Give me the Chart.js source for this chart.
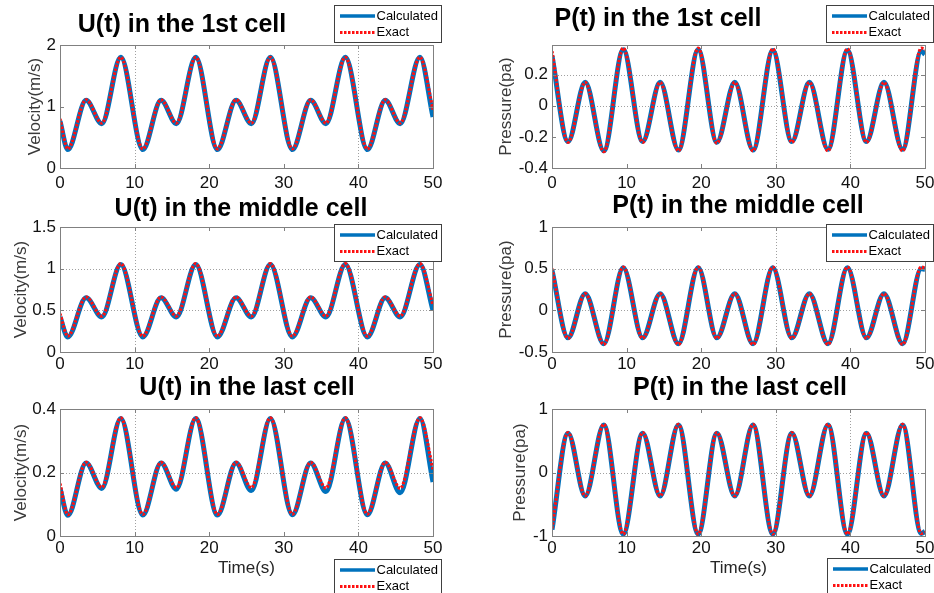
<!DOCTYPE html>
<html>
<head>
<meta charset="utf-8">
<script src="https://cdn.jsdelivr.net/npm/chart.js@4"></script>
<style>
  body { margin: 0; background: #fff; }
  #page { position: relative; width: 934px; height: 593px; overflow: hidden; background: #fff; }
  #page canvas { position: absolute; left: 0; top: 0; }
</style>
</head>
<body>
<div id="page">
  <canvas id="uFirst" width="934" height="593"></canvas>
  <canvas id="pFirst" width="934" height="593"></canvas>
  <canvas id="uMiddle" width="934" height="593"></canvas>
  <canvas id="pMiddle" width="934" height="593"></canvas>
  <canvas id="uLast" width="934" height="593"></canvas>
  <canvas id="pLast" width="934" height="593"></canvas>
</div>
<script>
// times (s) of the turning points
const uTime = [0, 1.05, 3.5, 5.6, 8.15, 11.1, 13.55, 15.6, 18.2, 21.1, 23.6, 25.65, 28.2, 31.15, 33.6, 35.65, 38.25, 41.2, 43.6, 45.6, 48.25, 50];
const pTime = [0, 2.15, 4.45, 6.95, 9.55, 12.15, 14.5, 16.95, 19.6, 22.1, 24.5, 26.95, 29.6, 32.15, 34.5, 37.0, 39.6, 42.15, 44.5, 47.0, 49.5, 50];

// velocity (m/s)
const uFirstCalc = [0.76, 0.30, 1.10, 0.72, 1.80, 0.30, 1.10, 0.72, 1.80, 0.30, 1.10, 0.72, 1.80, 0.30, 1.10, 0.72, 1.80, 0.30, 1.10, 0.72, 1.80, 0.83];
const uFirstExact = [0.80, 0.31, 1.11, 0.73, 1.80, 0.31, 1.11, 0.73, 1.80, 0.31, 1.11, 0.73, 1.80, 0.31, 1.11, 0.73, 1.80, 0.31, 1.11, 0.73, 1.80, 0.95];
const uMiddleCalc = [0.42, 0.18, 0.65, 0.42, 1.05, 0.18, 0.65, 0.42, 1.05, 0.18, 0.65, 0.42, 1.05, 0.18, 0.65, 0.42, 1.05, 0.18, 0.65, 0.42, 1.05, 0.50];
const uMiddleExact = [0.46, 0.19, 0.66, 0.43, 1.06, 0.19, 0.66, 0.43, 1.06, 0.19, 0.66, 0.43, 1.06, 0.19, 0.66, 0.43, 1.06, 0.19, 0.66, 0.43, 1.06, 0.56];
const uLastCalc = [0.15, 0.065, 0.23, 0.150, 0.370, 0.066, 0.230, 0.147, 0.370, 0.066, 0.230, 0.143, 0.370, 0.067, 0.230, 0.140, 0.370, 0.067, 0.230, 0.136, 0.370, 0.17];
const uLastExact = [0.165, 0.067, 0.232, 0.153, 0.372, 0.068, 0.232, 0.152, 0.372, 0.068, 0.232, 0.152, 0.372, 0.069, 0.232, 0.151, 0.372, 0.069, 0.232, 0.150, 0.372, 0.21];

// pressure (pa)
const pFirstCalc = [0.32, -0.23, 0.15, -0.29, 0.36, -0.23, 0.15, -0.285, 0.36, -0.235, 0.15, -0.285, 0.355, -0.23, 0.15, -0.28, 0.355, -0.23, 0.15, -0.28, 0.35, 0.33];
const pFirstExact = [0.35, -0.235, 0.15, -0.295, 0.37, -0.235, 0.15, -0.29, 0.37, -0.24, 0.15, -0.29, 0.365, -0.235, 0.15, -0.29, 0.365, -0.235, 0.15, -0.29, 0.37, 0.36];
const pMiddleCalc = [0.48, -0.33, 0.20, -0.40, 0.51, -0.33, 0.20, -0.40, 0.51, -0.33, 0.20, -0.40, 0.51, -0.33, 0.20, -0.40, 0.51, -0.33, 0.20, -0.40, 0.50, 0.49];
const pMiddleExact = [0.50, -0.335, 0.20, -0.41, 0.52, -0.335, 0.20, -0.41, 0.52, -0.335, 0.20, -0.41, 0.52, -0.335, 0.20, -0.41, 0.52, -0.335, 0.20, -0.41, 0.52, 0.51];
const pLastCalc = [-0.90, 0.62, -0.37, 0.75, -0.97, 0.62, -0.37, 0.75, -0.97, 0.62, -0.37, 0.75, -0.97, 0.62, -0.37, 0.75, -0.97, 0.62, -0.37, 0.75, -0.96, -0.93];
const pLastExact = [-0.88, 0.63, -0.37, 0.76, -0.97, 0.63, -0.37, 0.76, -0.97, 0.63, -0.37, 0.76, -0.97, 0.63, -0.37, 0.76, -0.97, 0.63, -0.37, 0.76, -0.96, -0.94];

const xTicks = [0, 10, 20, 30, 40, 50];
const seriesNames = ['Calculated', 'Exact'];

const FONT = '"Liberation Sans", Arial, Helvetica, sans-serif';
const BLUE = '#0072bd';
const RED = '#ff1010';
const W = 934, H = 593;

function near(v, list) {
  return list.some((g) => Math.abs(g - v) < 1e-6);
}

// matlab-ish axes: dotted grid, box, inward ticks, title, legend
const matlabAxes = {
  id: 'matlabAxes',
  beforeDatasetsDraw(chart, args, opts) {
    const { ctx, chartArea: a, scales: { x, y } } = chart;
    ctx.save();
    ctx.strokeStyle = '#a0a0a0';
    ctx.lineWidth = 1;
    ctx.setLineDash([1, 2]);
    x.ticks.forEach((t) => {
      if (!near(t.value, opts.gridX)) return;
      const px = Math.round(x.getPixelForValue(t.value)) + 0.5;
      ctx.beginPath(); ctx.moveTo(px, a.top); ctx.lineTo(px, a.bottom); ctx.stroke();
    });
    y.ticks.forEach((t) => {
      if (!near(t.value, opts.gridY)) return;
      const py = Math.round(y.getPixelForValue(t.value)) + 0.5;
      ctx.beginPath(); ctx.moveTo(a.left, py); ctx.lineTo(a.right, py); ctx.stroke();
    });
    ctx.restore();
  },
  afterDatasetsDraw(chart) {
    const { ctx, chartArea: a, scales: { x, y } } = chart;
    ctx.save();
    ctx.strokeStyle = '#808080';
    ctx.lineWidth = 1;
    ctx.strokeRect(Math.round(a.left) + 0.5, Math.round(a.top) + 0.5,
      Math.round(a.right - a.left), Math.round(a.bottom - a.top));
    ctx.beginPath();
    x.ticks.forEach((t) => {
      const px = Math.round(x.getPixelForValue(t.value)) + 0.5;
      ctx.moveTo(px, a.bottom); ctx.lineTo(px, a.bottom - 4);
      ctx.moveTo(px, a.top); ctx.lineTo(px, a.top + 4);
    });
    y.ticks.forEach((t) => {
      const py = Math.round(y.getPixelForValue(t.value)) + 0.5;
      ctx.moveTo(a.left, py); ctx.lineTo(a.left + 4, py);
      ctx.moveTo(a.right, py); ctx.lineTo(a.right - 4, py);
    });
    ctx.stroke();
    ctx.restore();
  },
  afterDraw(chart, args, opts) {
    const ctx = chart.ctx;
    ctx.save();
    // title
    ctx.font = 'bold 25px ' + FONT;
    ctx.fillStyle = '#000';
    ctx.textAlign = 'center';
    ctx.textBaseline = 'alphabetic';
    ctx.fillText(opts.title, opts.titleX, opts.titleY);
    // legend
    const [bx, by] = opts.legendAt;
    ctx.fillStyle = '#fff';
    ctx.fillRect(bx, by, 108, 38);
    ctx.strokeStyle = '#404040';
    ctx.lineWidth = 1;
    ctx.strokeRect(bx + 0.5, by + 0.5, 107, 37);
    ctx.font = '13px ' + FONT;
    ctx.textAlign = 'left';
    ctx.textBaseline = 'middle';
    chart.data.datasets.forEach((ds, i) => {
      const ly = by + 11 + i * 16.5;
      ctx.strokeStyle = ds.borderColor;
      ctx.lineWidth = i === 0 ? 3.5 : 3;
      ctx.setLineDash(ds.borderDash || []);
      ctx.beginPath(); ctx.moveTo(bx + 6, ly); ctx.lineTo(bx + 41, ly); ctx.stroke();
      ctx.setLineDash([]);
      ctx.fillStyle = '#000';
      ctx.fillText(ds.label, bx + 42.5, ly);
    });
    ctx.restore();
  }
};

function points(t, v) {
  return t.map((x, i) => ({ x: x, y: v[i] }));
}

function makePanel(id, p) {
  const [l, t, r, b] = p.area;
  const yW = l + 14.2 - p.yTitleX;       // y scale box width
  const xH = p.xLabel ? 46.2 : 30;       // x scale box height
  new Chart(document.getElementById(id), {
    type: 'line',
    data: {
      datasets: [
        {
          label: seriesNames[0],
          data: points(p.time, p.calc),
          borderColor: BLUE,
          borderWidth: 5,
          pointRadius: 0,
          cubicInterpolationMode: 'monotone',
          fill: false,
          order: 2
        },
        {
          label: seriesNames[1],
          data: points(p.time, p.exact),
          borderColor: RED,
          borderWidth: 3.2,
          borderDash: [2.5, 1.5],
          pointRadius: 0,
          cubicInterpolationMode: 'monotone',
          fill: false,
          order: 1
        }
      ]
    },
    options: {
      responsive: false,
      animation: false,
      devicePixelRatio: 1,
      layout: { padding: { left: l - yW, top: t, right: W - r, bottom: H - b - xH } },
      plugins: {
        legend: { display: false },
        title: { display: false },
        tooltip: { enabled: false },
        matlabAxes: {
          title: p.title, titleX: p.titleX, titleY: p.titleY,
          gridX: p.gridX, gridY: p.gridY, legendAt: p.legendAt
        }
      },
      scales: {
        x: {
          type: 'linear',
          min: 0,
          max: 50,
          afterBuildTicks: (s) => { s.ticks = xTicks.map((v) => ({ value: v })); },
          afterFit: (s) => { s.height = xH; s.paddingLeft = 0; s.paddingRight = 0; },
          grid: { display: false, drawTicks: false },
          border: { display: false },
          ticks: {
            padding: p.xTickPad,
            maxRotation: 0,
            color: '#111',
            font: { family: FONT, size: 17 },
            callback: (v) => String(v)
          },
          title: {
            display: !!p.xLabel,
            text: p.xLabel || '',
            color: '#262626',
            font: { family: FONT, size: 17 }
          }
        },
        y: {
          min: p.yMin,
          max: p.yMax,
          ticks: {
            stepSize: p.yStep,
            includeBounds: false,
            padding: 4,
            color: '#111',
            font: { family: FONT, size: 17 },
            callback: (v) => String(+Number(v).toFixed(2))
          },
          afterFit: (s) => { s.width = yW; s.paddingTop = 0; s.paddingBottom = 0; },
          grid: { display: false, drawTicks: false },
          border: { display: false },
          title: {
            display: true,
            text: p.yLabel,
            color: '#3a3a3a',
            font: { family: FONT, size: 17 }
          }
        }
      }
    },
    plugins: [matlabAxes]
  });
}

makePanel('uFirst', {
  title: 'U(t) in the 1st cell', titleX: 182, titleY: 32,
  time: uTime, calc: uFirstCalc, exact: uFirstExact,
  area: [60, 45, 433, 168], yMin: 0, yMax: 2, yStep: 1,
  yLabel: 'Velocity(m/s)', yTitleX: 35, xLabel: null, xTickPad: 5,
  gridX: [10, 40], gridY: [], legendAt: [334, 5]
});
makePanel('pFirst', {
  title: 'P(t) in the 1st cell', titleX: 658, titleY: 26,
  time: pTime, calc: pFirstCalc, exact: pFirstExact,
  area: [552, 45, 925, 168], yMin: -0.4, yMax: 0.39, yStep: 0.2,
  yLabel: 'Pressure(pa)', yTitleX: 506, xLabel: null, xTickPad: 5,
  gridX: [30, 40], gridY: [0.2, 0], legendAt: [826, 5]
});
makePanel('uMiddle', {
  title: 'U(t) in the middle cell', titleX: 241, titleY: 216,
  time: uTime, calc: uMiddleCalc, exact: uMiddleExact,
  area: [60, 227, 433, 352], yMin: 0, yMax: 1.5, yStep: 0.5,
  yLabel: 'Velocity(m/s)', yTitleX: 21, xLabel: null, xTickPad: 2,
  gridX: [10, 40], gridY: [1, 0.5], legendAt: [334, 224]
});
makePanel('pMiddle', {
  title: 'P(t) in the middle cell', titleX: 738, titleY: 213,
  time: pTime, calc: pMiddleCalc, exact: pMiddleExact,
  area: [552, 227, 925, 352], yMin: -0.5, yMax: 1, yStep: 0.5,
  yLabel: 'Pressure(pa)', yTitleX: 506, xLabel: null, xTickPad: 2,
  gridX: [30], gridY: [0.5, 0], legendAt: [826, 224]
});
makePanel('uLast', {
  title: 'U(t) in the last cell', titleX: 247, titleY: 395,
  time: uTime, calc: uLastCalc, exact: uLastExact,
  area: [60, 409, 433, 536], yMin: 0, yMax: 0.4, yStep: 0.2,
  yLabel: 'Velocity(m/s)', yTitleX: 21, xLabel: 'Time(s)', xTickPad: 2,
  gridX: [10, 40], gridY: [0.2], legendAt: [334, 559]
});
makePanel('pLast', {
  title: 'P(t) in the last cell', titleX: 740, titleY: 395,
  time: pTime, calc: pLastCalc, exact: pLastExact,
  area: [552, 409, 925, 536], yMin: -1, yMax: 1, yStep: 1,
  yLabel: 'Pressure(pa)', yTitleX: 520, xLabel: 'Time(s)', xTickPad: 2,
  gridX: [30, 40], gridY: [0], legendAt: [827, 558]
});
</script>
</body>
</html>
